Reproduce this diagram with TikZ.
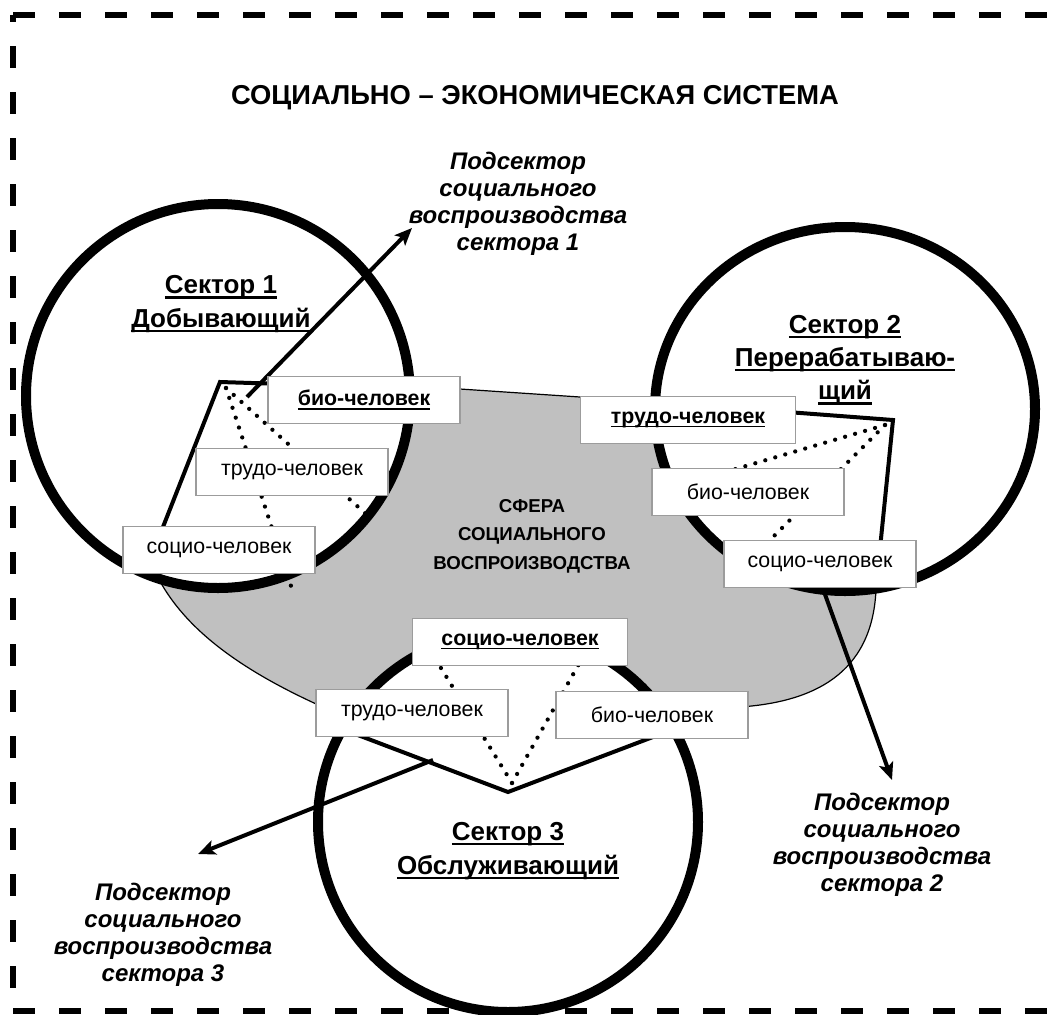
\documentclass[tikz,border=0pt]{standalone}
\usepackage{fontspec}
\setmainfont{Liberation Sans}
\usetikzlibrary{arrows.meta}
\newcommand{\uln}[1]{\setbox0=\hbox{#1}\rlap{\vrule width\wd0 height -.1em depth .18em}\box0}
\definecolor{zonegray}{HTML}{C0C0C0}
\definecolor{boxgray}{HTML}{9C9C9C}
\tikzset{
  frame/.style={
    line width=4.9pt,
    dash pattern=on 16.5pt off 18pt
  },
  sector/.style={
    draw,
    line width=7.5pt,
    fill=white
  },
  wedge/.style={
    line width=3pt,
    line join=miter
  },
  zone/.style={
    draw,
    fill=zonegray,
    line width=0.9pt
  },
  link/.style={
    line width=3.2pt,
    line cap=round,
    dash pattern=on 0pt off 7.8pt
  },
  pointer/.style={
    line width=3pt,
    -{Stealth[length=13pt, width=11pt, inset=3pt]}
  },
  role/.style={
    draw=boxgray,
    line width=1.1pt,
    fill=white,
    rectangle,
    minimum width=144pt,
    minimum height=35pt,
    inner sep=0pt,
    font=\fontsize{16}{19}\selectfont
  },
  mainrole/.style={
    role,
    font=\bfseries\fontsize{16}{19}\selectfont
  },
  secname/.style={
    align=center,
    font=\bfseries\fontsize{19.5}{25}\selectfont
  },
  note/.style={
    align=center,
    font=\bfseries\itshape\fontsize{18}{20.3}\selectfont
  },
  sphere/.style={
    align=center,
    font=\bfseries\fontsize{14}{21.5}\selectfont
  }
}

\begin{document}
\begin{tikzpicture}[x=0.75pt, y=-0.75pt]
    \useasboundingbox (0,0) rectangle (1056,1014);

    % dashed frame
    \coordinate (tl) at (13,15);
    \coordinate (tr) at (1075,15);
    \coordinate (bl) at (13,1011);
    \coordinate (br) at (1075,1011);
    \draw[frame] (tl) -- (tr);
    \draw[frame, dash phase=11.25pt] (tl) -- (bl);
    \draw[frame] (bl) -- (br);

    \node[font=\bfseries\fontsize{20.5}{24}\selectfont] (title) at (535,98)
        {СОЦИАЛЬНО – ЭКОНОМИЧЕСКАЯ СИСТЕМА};

    % vertices of the subsectors
    \coordinate (v1) at (220,382);
    \coordinate (v2) at (893,420);
    \coordinate (v3) at (508,792);

    % sphere of social reproduction
    \draw[zone] (v1) -- (460,389) -- (580,397) -- (797,410) -- (v2)
        -- (876,590) .. controls (872,675) and (812,702) .. (740,707)
        -- (v3) -- (325,708) .. controls (240,670) and (175,625) .. (150,560)
        -- cycle;

    % sectors
    \draw[sector] (218,396) circle [radius=192];
    \draw[sector] (845,409) ellipse [x radius=190, y radius=182];
    \draw[sector] (508,822) circle [radius=190];

    % subsector borders
    \coordinate (w1a) at (150,560);
    \coordinate (w1b) at (410,388);
    \coordinate (w2a) at (655,402);
    \coordinate (w2b) at (876,588);
    \coordinate (w3a) at (342,729);
    \coordinate (w3b) at (674,729);
    \draw[wedge] (w1a) -- (v1) -- (w1b);
    \draw[wedge] (w2a) -- (v2) -- (w2b);
    \draw[wedge] (w3a) -- (v3) -- (w3b);

    % dotted links
    \coordinate (d1) at (226,388);
    \coordinate (d1a) at (291,586);
    \coordinate (d1b) at (366,514);
    \coordinate (d2) at (885,425);
    \coordinate (d2a) at (678,486);
    \coordinate (d2b) at (752,558);
    \coordinate (d3) at (512,783);
    \coordinate (d3a) at (436,660);
    \coordinate (d3b) at (580,662);
    \draw[link] (d1) -- (d1a);
    \draw[link] (d1) -- (d1b);
    \draw[link] (d2) -- (d2a);
    \draw[link] (d2) -- (d2b);
    \draw[link] (d3) -- (d3a);
    \draw[link] (d3) -- (d3b);

    % arrows to the captions
    \coordinate (p1) at (247,397);
    \coordinate (q1) at (412,228);
    \coordinate (p2) at (818,575);
    \coordinate (q2) at (892,780);
    \coordinate (p3) at (433,760);
    \coordinate (q3) at (198,854);
    \draw[pointer] (p1) -- (q1);
    \draw[pointer] (p2) -- (q2);
    \draw[pointer] (p3) -- (q3);

    % sector 1
    \node[mainrole] (bio1) at (364,400) {\uln{био-человек}};
    \node[role] (trudo1) at (292,472) {трудо-человек};
    \node[role] (socio1) at (219,550) {социо-человек};
    % sector 2
    \node[mainrole, minimum width=161pt] (trudo2) at (688,420) {\uln{трудо-человек}};
    \node[role] (bio2) at (748,492) {био-человек};
    \node[role] (socio2) at (820,564) {социо-человек};
    % sector 3
    \node[mainrole, minimum width=161pt] (socio3) at (520,642) {\uln{социо-человек}};
    \node[role] (trudo3) at (412,713) {трудо-человек};
    \node[role] (bio3) at (652,715) {био-человек};

    \node[secname] (name1) at (221,304) {\uln{Сектор 1}\\\uln{Добывающий}};
    \node[secname] (name2) at (845,360) {\uln{Сектор 2}\\\uln{Перерабатываю-}\\\uln{щий}};
    \node[secname] (name3) at (508,851) {\uln{Сектор 3}\\\uln{Обслуживающий}};

    \node[sphere] (sphere) at (532,536) {СФЕРА\\СОЦИАЛЬНОГО\\ВОСПРОИЗВОДСТВА};

    \node[note] (note1) at (518,204) {Подсектор\\социального\\воспроизводства\\сектора 1};
    \node[note] (note2) at (882,845) {Подсектор\\социального\\воспроизводства\\сектора 2};
    \node[note] (note3) at (163,935) {Подсектор\\социального\\воспроизводства\\сектора 3};
\end{tikzpicture}
\end{document}
